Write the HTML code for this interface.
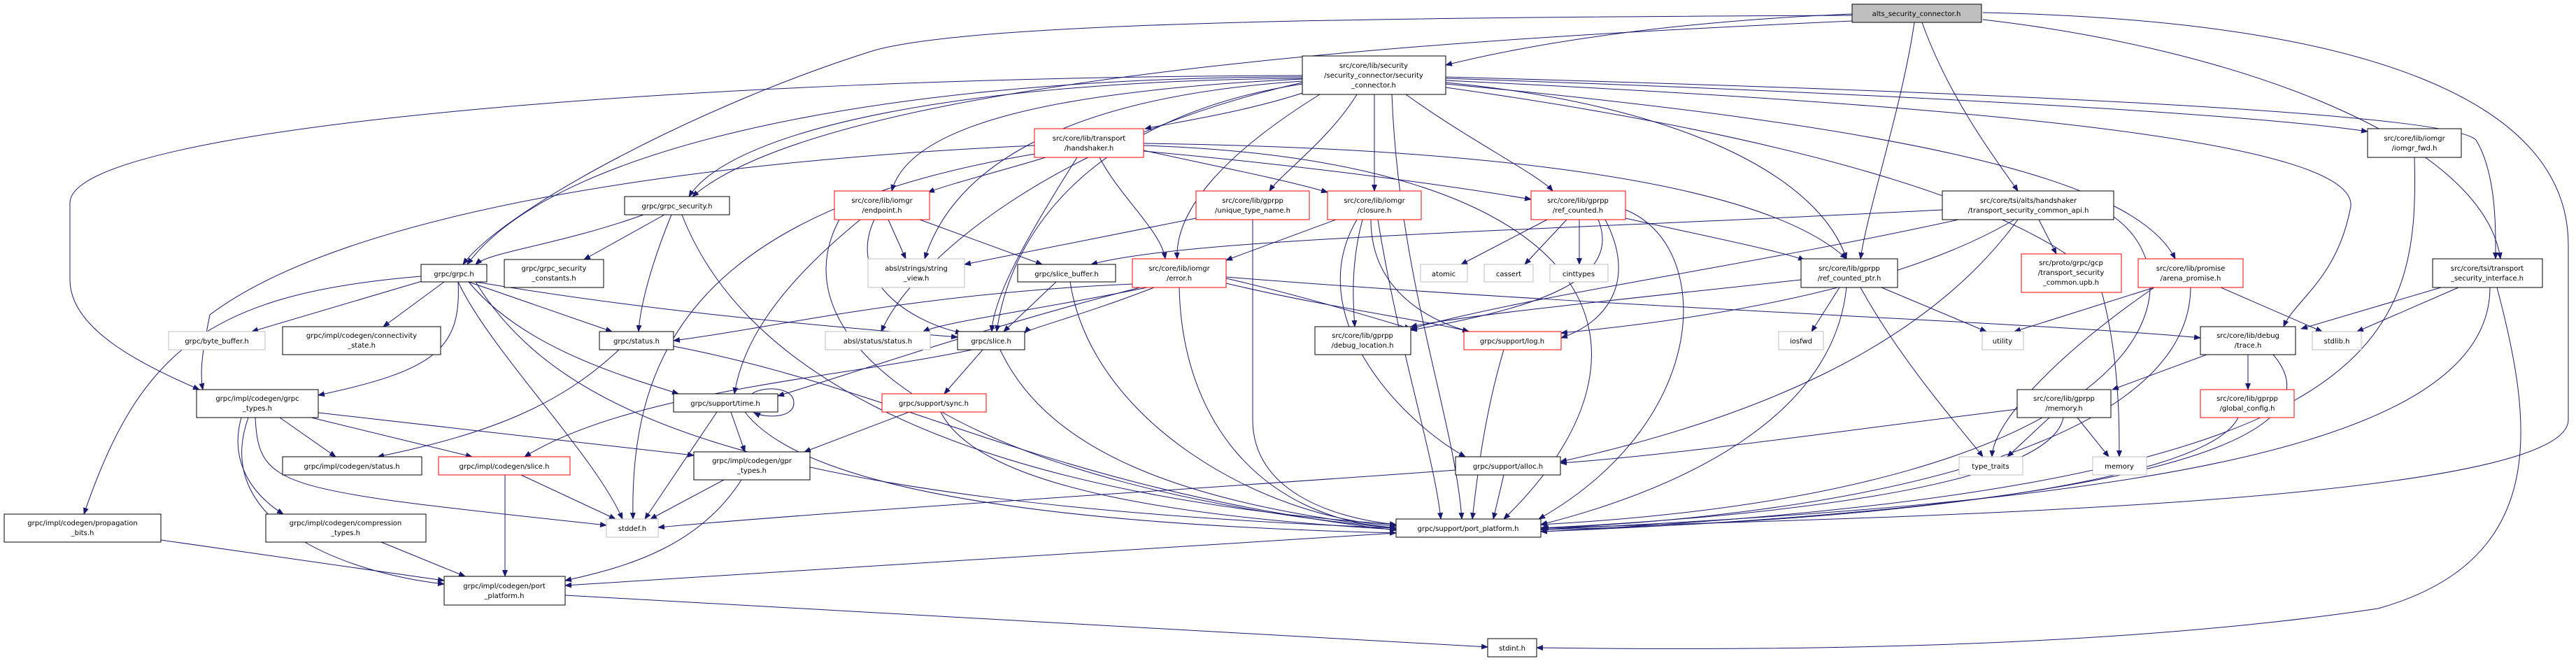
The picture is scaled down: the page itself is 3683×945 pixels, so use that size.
<!DOCTYPE html>
<html><head><meta charset="utf-8"><style>
html,body{margin:0;padding:0;background:#fff;}
svg{display:block;}
text{font-family:"DejaVu Sans","Liberation Sans",sans-serif;font-size:10px;fill:#000;text-anchor:middle;}
.e{fill:none;stroke:#191970;stroke-width:1;marker-end:url(#ah);}
.n{fill:#fff;stroke:#000;stroke-width:1;}
.r{fill:#fff;stroke:#ff0000;stroke-width:1;}
.g{fill:#fff;stroke:#bfbfbf;stroke-width:1;}
</style></head><body>
<svg width="3683" height="945" viewBox="0 0 3683 945" xmlns="http://www.w3.org/2000/svg">
<defs><marker id="ah" markerWidth="10" markerHeight="8" refX="9" refY="4" orient="auto" markerUnits="userSpaceOnUse"><path d="M0,0 L10,4 L0,8 z" fill="#191970"/></marker></defs>
<g>
<path class="e" d="M2648,20 C2400,30 2200,60 2067,93"/>
<path class="e" d="M2648,22 C2000,25 1400,30 1250,72 C1000,150 720,300 662,378"/>
<path class="e" d="M2648,30 C2200,50 1200,100 990,281"/>
<path class="e" d="M2737,32 C2720,150 2670,300 2660,370"/>
<path class="e" d="M2748,32 C2790,150 2870,250 2885,273"/>
<path class="e" d="M2835,28 C3200,70 3550,200 3575,370"/>
<path class="e" d="M2835,18 C3400,30 3672,150 3672,350 L3672,600 C3672,720 2700,740 2205,755"/>
<path class="e" d="M1862,133 C1780,160 1680,175 1637,184"/>
<path class="e" d="M1862,110 C1300,110 800,200 668,378"/>
<path class="e" d="M1862,112 C1400,115 1050,180 985,281"/>
<path class="e" d="M1862,108 C1000,110 100,180 100,290 L100,400 C100,470 200,520 285,557"/>
<path class="e" d="M1862,113 C1500,130 1300,180 1275,273"/>
<path class="e" d="M1862,116 C1500,140 1360,250 1322,370"/>
<path class="e" d="M1940,135 C1900,200 1830,250 1815,273"/>
<path class="e" d="M1965,135 L1965,273"/>
<path class="e" d="M2010,135 C2100,200 2200,250 2220,273"/>
<path class="e" d="M1887,135 C1750,220 1680,300 1683,370"/>
<path class="e" d="M1862,120 C1600,160 1450,300 1425,474"/>
<path class="e" d="M1862,118 C1500,200 1300,380 1260,474"/>
<path class="e" d="M2067,118 C2400,150 2600,250 2640,370"/>
<path class="e" d="M2067,112 C2600,130 3200,160 3385,188"/>
<path class="e" d="M2067,110 C2800,130 3500,160 3540,200 C3570,250 3568,330 3568,370"/>
<path class="e" d="M2067,120 C2700,180 3050,250 3110,370"/>
<path class="e" d="M2067,115 C2800,150 3390,200 3360,300 C3340,400 3280,430 3265,467"/>
<path class="e" d="M2067,125 C2600,200 2900,300 3000,400 C3030,500 3030,600 3030,653"/>
<path class="e" d="M1990,135 C2000,400 2080,600 2090,742"/>
<path class="e" d="M1495,225 C1430,245 1360,262 1327,275"/>
<path class="e" d="M1635,215 C1750,240 1850,260 1898,275"/>
<path class="e" d="M1635,216 C1900,240 2100,270 2189,285"/>
<path class="e" d="M1572,225 C1600,280 1660,330 1666,370"/>
<path class="e" d="M1540,225 C1480,320 1420,420 1418,474"/>
<path class="e" d="M1635,205 C2000,210 2500,240 2640,370"/>
<path class="e" d="M1479,208 C1000,230 500,300 300,450 C290,500 285,530 290,557"/>
<path class="e" d="M1480,220 C1000,300 900,500 905,742"/>
<path class="e" d="M1635,208 C2300,230 2400,500 2150,742"/>
<path class="e" d="M1270,314 L1295,370"/>
<path class="e" d="M1315,314 L1490,378"/>
<path class="e" d="M1230,314 C1100,420 1060,500 1050,563"/>
<path class="e" d="M1250,314 C1210,400 1300,460 1375,476"/>
<path class="e" d="M1200,314 C1100,500 1400,700 1996,755"/>
<path class="e" d="M1710,312 L1379,378"/>
<path class="e" d="M1791,314 L1791,600 C1791,700 1900,740 1996,750"/>
<path class="e" d="M1910,314 L1753,372"/>
<path class="e" d="M1948,314 C1930,380 1935,440 1937,467"/>
<path class="e" d="M1960,314 C1960,420 2050,460 2100,474"/>
<path class="e" d="M1940,314 C1860,450 2000,600 2095,653"/>
<path class="e" d="M1970,314 C2000,500 2050,650 2060,742"/>
<path class="e" d="M2212,314 L2089,378"/>
<path class="e" d="M2240,314 L2180,378"/>
<path class="e" d="M2258,314 L2258,378"/>
<path class="e" d="M2285,314 C2320,400 2200,440 2017,472"/>
<path class="e" d="M2295,314 C2340,400 2300,460 2232,483"/>
<path class="e" d="M2324,312 C2450,340 2550,360 2580,372"/>
<path class="e" d="M2324,300 C2450,350 2450,600 2200,742"/>
<path class="e" d="M1619,406 C1300,420 1100,470 963,487"/>
<path class="e" d="M1650,411 C1550,450 1470,470 1465,476"/>
<path class="e" d="M1640,411 C1500,440 1350,460 1320,474"/>
<path class="e" d="M1630,411 C1400,470 1200,540 1112,566"/>
<path class="e" d="M1753,398 C1850,420 1950,450 2017,470"/>
<path class="e" d="M1753,405 C1900,440 2050,460 2100,474"/>
<path class="e" d="M1753,396 C2300,440 2900,460 3146,483"/>
<path class="e" d="M1686,411 C1690,600 1800,740 1996,755"/>
<path class="e" d="M1390,500 C1200,540 900,560 750,653"/>
<path class="e" d="M1510,403 L1435,474"/>
<path class="e" d="M1530,403 C1560,600 1800,740 1996,752"/>
<path class="e" d="M920,307 C800,350 700,360 680,378"/>
<path class="e" d="M950,307 L835,371"/>
<path class="e" d="M960,307 C930,380 915,440 913,474"/>
<path class="e" d="M975,307 C1050,500 1300,700 1996,750"/>
<path class="e" d="M610,400 L360,474"/>
<path class="e" d="M635,403 L548,467"/>
<path class="e" d="M655,403 C660,500 620,530 455,565"/>
<path class="e" d="M670,403 L875,474"/>
<path class="e" d="M680,403 C900,440 1100,460 1369,482"/>
<path class="e" d="M670,403 C750,500 900,540 970,563"/>
<path class="e" d="M655,403 C700,500 850,650 890,742"/>
<path class="e" d="M602,395 C300,420 200,500 120,735"/>
<path class="e" d="M680,403 C800,600 1100,720 1996,755"/>
<path class="e" d="M2777,300 C2200,330 1700,340 1560,378"/>
<path class="e" d="M2800,314 C2500,380 2200,420 2017,470"/>
<path class="e" d="M2915,314 L2940,363"/>
<path class="e" d="M2880,314 C2700,420 2400,460 2232,476"/>
<path class="e" d="M2885,314 C2750,500 2500,600 2231,660"/>
<path class="e" d="M3022,310 C3150,400 3100,700 2203,750"/>
<path class="e" d="M2630,411 L2590,474"/>
<path class="e" d="M2690,411 L2840,474"/>
<path class="e" d="M2660,411 C2720,520 2810,620 2835,653"/>
<path class="e" d="M2575,400 C2300,430 2100,450 2017,467"/>
<path class="e" d="M2640,411 C2620,600 2400,700 2203,750"/>
<path class="e" d="M3080,411 L2880,474"/>
<path class="e" d="M3080,411 C2950,500 2850,600 2848,653"/>
<path class="e" d="M3175,411 L3320,474"/>
<path class="e" d="M3132,411 C3130,650 2600,740 2203,755"/>
<path class="e" d="M3490,411 L3290,470"/>
<path class="e" d="M3515,411 L3370,474"/>
<path class="e" d="M3560,411 C3560,650 3000,720 2203,757"/>
<path class="e" d="M3570,411 C3620,600 3650,800 3400,870 C3000,930 2500,930 2197,926"/>
<path class="e" d="M3452,225 C3460,500 3400,700 2203,760"/>
<path class="e" d="M3155,507 L3020,557"/>
<path class="e" d="M3214,507 L3214,557"/>
<path class="e" d="M3250,507 C3330,600 3200,720 2203,760"/>
<path class="e" d="M2930,597 L2870,653"/>
<path class="e" d="M2970,597 L3015,653"/>
<path class="e" d="M2884,585 C2600,620 2400,650 2231,662"/>
<path class="e" d="M2950,597 C2930,700 2500,740 2203,755"/>
<path class="e" d="M3200,597 C3150,700 2600,750 2203,757"/>
<path class="e" d="M2150,500 C2120,600 2110,700 2105,742"/>
<path class="e" d="M2150,679 L2135,742"/>
<path class="e" d="M2081,672 C1700,700 1200,730 941,754"/>
<path class="e" d="M1405,500 L1350,563"/>
<path class="e" d="M1430,500 C1500,650 1700,720 1996,755"/>
<path class="e" d="M1300,589 L1150,646"/>
<path class="e" d="M1345,589 C1400,700 1700,740 1996,757"/>
<path class="e" d="M885,500 C800,580 700,620 540,653"/>
<path class="e" d="M963,495 C1300,560 1500,700 1996,758"/>
<path class="e" d="M1075,563 C1090,552 1135,552 1135,576 C1135,598 1095,598 1078,590"/>
<path class="e" d="M1045,589 L1065,646"/>
<path class="e" d="M1025,589 L922,742"/>
<path class="e" d="M1065,589 C1150,700 1500,750 1996,762"/>
<path class="e" d="M1035,686 L930,742"/>
<path class="e" d="M1060,686 C1000,780 900,810 808,830"/>
<path class="e" d="M745,679 L880,742"/>
<path class="e" d="M722,679 L722,824"/>
<path class="e" d="M400,597 L480,653"/>
<path class="e" d="M445,597 L675,653"/>
<path class="e" d="M455,590 L992,651"/>
<path class="e" d="M365,597 C370,700 400,700 867,751"/>
<path class="e" d="M345,597 C330,650 350,700 405,735"/>
<path class="e" d="M355,597 C300,750 500,820 635,835"/>
<path class="e" d="M230,772 L635,830"/>
<path class="e" d="M545,775 L665,824"/>
<path class="e" d="M808,851 L2127,925"/>
<path class="e" d="M1996,762 L808,837"/>
</g>
<g>
<rect x="2648" y="6" width="185" height="26" fill="#bfbfbf" stroke="#000"/><text x="2740" y="23">alts_security_connector.h</text>
<rect class="n" x="1862" y="80" width="205" height="55"/><text x="1964" y="97">src/core/lib/security</text><text x="1964" y="111">/security_connector/security</text><text x="1964" y="125">_connector.h</text>
<rect class="r" x="1479" y="184" width="156" height="41"/><text x="1557" y="201">src/core/lib/transport</text><text x="1557" y="215">/handshaker.h</text>
<rect class="n" x="3385" y="184" width="134" height="41"/><text x="3452" y="201">src/core/lib/iomgr</text><text x="3452" y="215">/iomgr_fwd.h</text>
<rect class="r" x="1193" y="273" width="136" height="41"/><text x="1261" y="290">src/core/lib/iomgr</text><text x="1261" y="304">/endpoint.h</text>
<rect class="r" x="1710" y="273" width="162" height="41"/><text x="1791" y="290">src/core/lib/gprpp</text><text x="1791" y="304">/unique_type_name.h</text>
<rect class="r" x="1898" y="273" width="134" height="41"/><text x="1965" y="290">src/core/lib/iomgr</text><text x="1965" y="304">/closure.h</text>
<rect class="r" x="2189" y="273" width="135" height="41"/><text x="2256" y="290">src/core/lib/gprpp</text><text x="2256" y="304">/ref_counted.h</text>
<rect class="n" x="2777" y="273" width="245" height="41"/><text x="2900" y="290">src/core/tsi/alts/handshaker</text><text x="2900" y="304">/transport_security_common_api.h</text>
<rect class="n" x="893" y="281" width="150" height="26"/><text x="968" y="298">grpc/grpc_security.h</text>
<rect class="n" x="602" y="378" width="94" height="25"/><text x="649" y="395">grpc/grpc.h</text>
<rect class="n" x="721" y="371" width="142" height="40"/><text x="792" y="387">grpc/grpc_security</text><text x="792" y="401">_constants.h</text>
<rect class="g" x="1241" y="370" width="138" height="41"/><text x="1310" y="387">absl/strings/string</text><text x="1310" y="401">_view.h</text>
<rect class="n" x="1455" y="378" width="140" height="25"/><text x="1525" y="395">grpc/slice_buffer.h</text>
<rect class="r" x="1619" y="370" width="134" height="41"/><text x="1686" y="387">src/core/lib/iomgr</text><text x="1686" y="401">/error.h</text>
<rect class="g" x="2031" y="378" width="67" height="25"/><text x="2064" y="395">atomic</text>
<rect class="g" x="2122" y="378" width="70" height="25"/><text x="2157" y="395">cassert</text>
<rect class="g" x="2216" y="378" width="83" height="25"/><text x="2257" y="395">cinttypes</text>
<rect class="n" x="2575" y="370" width="138" height="41"/><text x="2644" y="387">src/core/lib/gprpp</text><text x="2644" y="401">/ref_counted_ptr.h</text>
<rect class="r" x="2890" y="363" width="143" height="55"/><text x="2961" y="379">src/proto/grpc/gcp</text><text x="2961" y="393">/transport_security</text><text x="2961" y="407">_common.upb.h</text>
<rect class="r" x="3057" y="370" width="150" height="41"/><text x="3132" y="387">src/core/lib/promise</text><text x="3132" y="401">/arena_promise.h</text>
<rect class="n" x="3478" y="370" width="157" height="41"/><text x="3556" y="387">src/core/tsi/transport</text><text x="3556" y="401">_security_interface.h</text>
<rect class="g" x="241" y="474" width="138" height="26"/><text x="310" y="491">grpc/byte_buffer.h</text>
<rect class="n" x="404" y="467" width="226" height="40"/><text x="517" y="483">grpc/impl/codegen/connectivity</text><text x="517" y="497">_state.h</text>
<rect class="n" x="857" y="474" width="106" height="26"/><text x="910" y="491">grpc/status.h</text>
<rect class="g" x="1180" y="474" width="150" height="26"/><text x="1255" y="491">absl/status/status.h</text>
<rect class="n" x="1369" y="474" width="96" height="26"/><text x="1417" y="491">grpc/slice.h</text>
<rect class="n" x="1880" y="467" width="137" height="40"/><text x="1948" y="483">src/core/lib/gprpp</text><text x="1948" y="497">/debug_location.h</text>
<rect class="r" x="2093" y="474" width="139" height="26"/><text x="2162" y="491">grpc/support/log.h</text>
<rect class="g" x="2543" y="474" width="64" height="26"/><text x="2575" y="491">iosfwd</text>
<rect class="g" x="2834" y="474" width="59" height="26"/><text x="2863" y="491">utility</text>
<rect class="n" x="3146" y="467" width="136" height="40"/><text x="3214" y="483">src/core/lib/debug</text><text x="3214" y="497">/trace.h</text>
<rect class="g" x="3306" y="474" width="70" height="26"/><text x="3341" y="491">stdlib.h</text>
<rect class="n" x="281" y="557" width="174" height="40"/><text x="368" y="573">grpc/impl/codegen/grpc</text><text x="368" y="587">_types.h</text>
<rect class="n" x="963" y="563" width="149" height="26"/><text x="1037" y="580">grpc/support/time.h</text>
<rect class="r" x="1261" y="563" width="149" height="26"/><text x="1335" y="580">grpc/support/sync.h</text>
<rect class="n" x="2884" y="557" width="134" height="40"/><text x="2951" y="573">src/core/lib/gprpp</text><text x="2951" y="587">/memory.h</text>
<rect class="r" x="3146" y="557" width="134" height="40"/><text x="3213" y="573">src/core/lib/gprpp</text><text x="3213" y="587">/global_config.h</text>
<rect class="n" x="404" y="653" width="199" height="26"/><text x="503" y="670">grpc/impl/codegen/status.h</text>
<rect class="r" x="627" y="653" width="188" height="26"/><text x="721" y="670">grpc/impl/codegen/slice.h</text>
<rect class="n" x="992" y="646" width="166" height="40"/><text x="1075" y="662">grpc/impl/codegen/gpr</text><text x="1075" y="676">_types.h</text>
<rect class="n" x="2081" y="653" width="150" height="26"/><text x="2156" y="670">grpc/support/alloc.h</text>
<rect class="g" x="2801" y="653" width="91" height="26"/><text x="2846" y="670">type_traits</text>
<rect class="g" x="2992" y="653" width="77" height="26"/><text x="3030" y="670">memory</text>
<rect class="n" x="6" y="735" width="224" height="40"/><text x="118" y="751">grpc/impl/codegen/propagation</text><text x="118" y="765">_bits.h</text>
<rect class="n" x="380" y="735" width="229" height="40"/><text x="494" y="751">grpc/impl/codegen/compression</text><text x="494" y="765">_types.h</text>
<rect class="g" x="867" y="742" width="74" height="26"/><text x="904" y="759">stddef.h</text>
<rect class="n" x="1996" y="742" width="207" height="26"/><text x="2099" y="759">grpc/support/port_platform.h</text>
<rect class="n" x="635" y="824" width="173" height="41"/><text x="721" y="841">grpc/impl/codegen/port</text><text x="721" y="855">_platform.h</text>
<rect class="n" x="2127" y="913" width="70" height="26"/><text x="2162" y="930">stdint.h</text>
</g>
</svg>
</body></html>
